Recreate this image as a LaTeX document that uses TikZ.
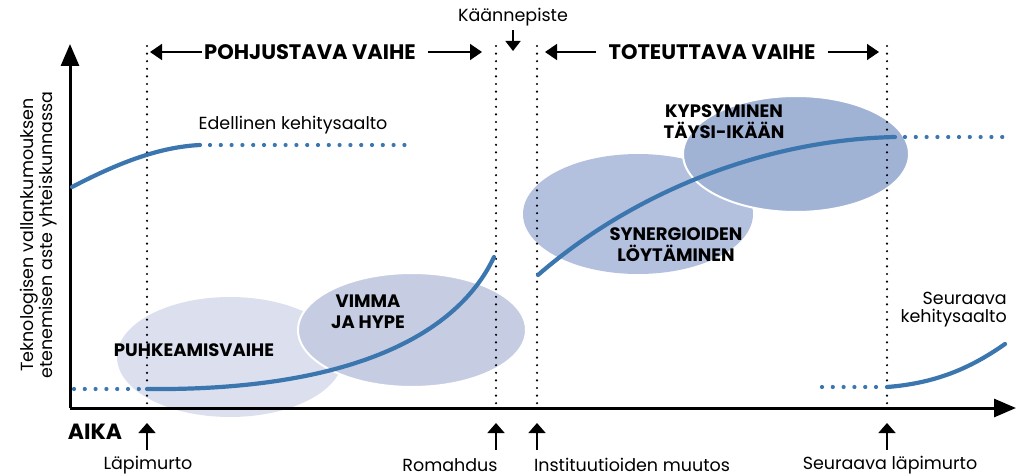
\documentclass[tikz,border=0pt]{standalone}
\usepackage{fontspec}
\setmainfont{Poppins}
\usetikzlibrary{arrows.meta}
\definecolor{wave}{HTML}{3B76AF}
\definecolor{puhke}{HTML}{DCE0EE}
\definecolor{vimma}{HTML}{C6CDE3}
\definecolor{synerg}{HTML}{B3C1DF}
\definecolor{kyps}{HTML}{A1B3D5}
\begin{document}
\begin{tikzpicture}[x=1pt,y=-1pt]
\tikzstyle{label}=[font=\fontsize{17.5}{18}\selectfont, inner sep=0pt, align=center]
\tikzstyle{phase}=[font=\fontsize{18}{21}\selectfont\bfseries, inner sep=0pt, align=center]
\tikzstyle{head}=[font=\fontsize{21}{24}\selectfont\bfseries, inner sep=0pt]
\tikzstyle{solidwave}=[wave, line width=4.2pt, line cap=round]
\tikzstyle{dotwave}=[wave, line width=4.2pt, line cap=round, dash pattern=on 0pt off 10.8pt]
\tikzstyle{marker}=[line width=2.4pt, line cap=round, dash pattern=on 0pt off 7.6pt]
\tikzstyle{axis}=[line width=3pt, -{Triangle[width=18pt,length=22pt]}]
\tikzstyle{pointer}=[line width=1.6pt, -{Triangle[width=17pt,length=10pt]}]
\tikzstyle{span}=[line width=1.6pt, -{Triangle[width=16pt,length=12pt]}]

\useasboundingbox (0,0) rectangle (1022,476);

% vaiheiden ellipsit
\fill[puhke] (230,357) ellipse (113 and 60);
\filldraw[vimma, draw=white, line width=2pt] (412,330) ellipse (114 and 57);
\fill[synerg] (638,214) ellipse (115 and 60);
\filldraw[kyps, draw=white, line width=2pt] (796,154) ellipse (113 and 58);

% pystyviivat
\foreach \x in {147,496,537,887}
  \draw[marker] (\x,46) -- (\x,406);

% akselit
\coordinate (origin) at (70,408);
\coordinate (ytop) at (70,44);
\coordinate (xend) at (1016,408);
\draw[axis] (origin) -- (ytop);
\draw[axis] (origin) -- (xend);

% aallot
\draw[solidwave] (72,187) .. controls (120,162) and (160,147) .. (200,145);
\draw[dotwave] (210,145) -- (413,145);
\draw[dotwave] (74,389) -- (140,389);
\draw[solidwave] (147,389) .. controls (340,391) and (455,340) .. (494,257);
\draw[solidwave] (538,275) .. controls (630,195) and (760,140) .. (895,137);
\draw[dotwave] (905,137) -- (1008,137);
\draw[dotwave] (822,387) -- (878,387);
\draw[solidwave] (887,387) .. controls (940,383) and (975,365) .. (1005,344);

% tekstit
\node[label, rotate=90] (ylab) at (39,235) {Teknologisen vallankumouksen\\etenemisen aste yhteiskunnassa};
\node[label] (prev) at (293,125) {Edellinen kehitysaalto};
\node[label, align=right, anchor=east] (next) at (1007,310) {Seuraava\\kehitysaalto};
\node[phase] (puhkeaminen) at (194,350) {PUHKEAMISVAIHE};
\node[phase] (vimma) at (368,312) {VIMMA\\JA HYPE};
\node[phase] (kypsyminen) at (724,122) {KYPSYMINEN\\TÄYSI-IKÄÄN};
\node[phase] (synergia) at (676,245) {SYNERGIOIDEN\\LÖYTÄMINEN};
\node[head, font=\fontsize{22}{24}\selectfont\bfseries] (aika) at (95,432) {AIKA};

% vaiheet ylhaalla
\node[head] (pohj) at (310,52) {POHJUSTAVA VAIHE};
\node[head] (tot) at (712,52) {TOTEUTTAVA VAIHE};
\coordinate (pohjL) at (150,52);
\coordinate (pohjR) at (482,52);
\coordinate (totL) at (545,52);
\coordinate (totR) at (879,52);
\draw[span] (pohj.west) ++(-2,0) -- (pohjL);
\draw[span] (pohj.east) ++(12,0) -- (pohjR);
\draw[span] (tot.west) ++(-12,0) -- (totL);
\draw[span] (tot.east) ++(12,0) -- (totR);

\node[label] (kaanne) at (513,17) {Käännepiste};
\coordinate (kaanneTip) at (513,51);
\draw[pointer, -{Triangle[width=15pt,length=10pt]}] (kaanne.south) ++(0,4) -- (kaanneTip);

% tapahtumat alhaalla
\node[label] (lapimurto) at (148,465) {Läpimurto};
\node[label] (romahdus) at (450,465) {Romahdus};
\node[label] (instituutiot) at (632,465) {Instituutioiden muutos};
\node[label] (seuraava) at (890,465) {Seuraava läpimurto};
\foreach \x/\n in {147/a,496/b,537/c,887/d} {
  \coordinate (foot\n) at (\x,450);
  \coordinate (tip\n) at (\x,423);
  \draw[pointer] (foot\n) -- (tip\n);
}
\end{tikzpicture}
\end{document}
